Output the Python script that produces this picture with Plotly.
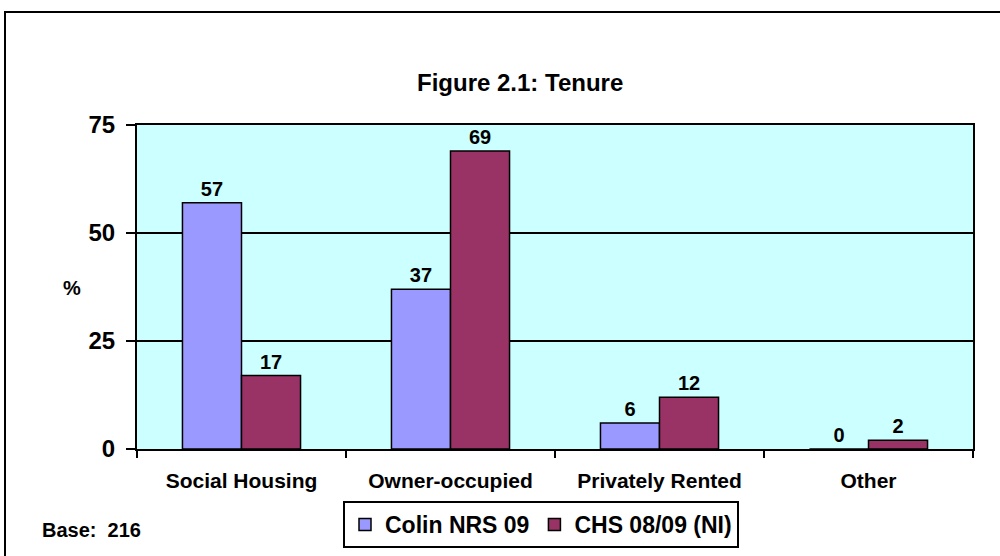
import plotly.graph_objects as go

categories = ["Social Housing", "Owner-occupied", "Privately Rented", "Other"]
series_names = ["Colin NRS 09", "CHS 08/09 (NI)"]
colin_values = [57, 37, 6, 0]
chs_values = [17, 69, 12, 2]
colors = ["#9999FF", "#993366"]
y_ticks = [0, 25, 50, 75]

W, H = 1000, 556
L, R, T, B = 137, 27, 125, 107
pw, ph = W - L - R, H - T - B

def px_x(x):
    return (x - L) / pw

def px_y(y):
    return (H - B - y) / ph

FONT = "Liberation Sans, Arial, sans-serif"

fig = go.Figure()
for name, vals, col in zip(series_names, [colin_values, chs_values], colors):
    fig.add_trace(go.Bar(
        x=categories, y=vals, name=name,
        marker=dict(color=col, line=dict(color="black", width=1.5)),
        text=[str(v) for v in vals], textposition="outside",
        textfont=dict(family=FONT, size=20, color="black", weight="bold"),
        cliponaxis=False,
    ))

fig.update_layout(
    width=W, height=H,
    margin=dict(l=L, r=R, t=T, b=B, autoexpand=False),
    paper_bgcolor="white", plot_bgcolor="#CCFFFF",
    barmode="group", bargap=0.435, bargroupgap=0,
    font=dict(family=FONT, color="black"),
    showlegend=True,
    legend=dict(
        orientation="h", x=px_x(343), y=px_y(501), xanchor="left", yanchor="top",
        bordercolor="black", borderwidth=2, bgcolor="white",
        font=dict(family=FONT, size=23, color="black", weight="bold"),
        tracegroupgap=0,
    ),
)

fig.update_xaxes(
    showline=True, linecolor="black", linewidth=2, mirror=True,
    ticks="outside", tickson="boundaries", ticklen=7, tickwidth=1.5, tickcolor="black",
    tickfont=dict(family=FONT, size=21, color="black", weight="bold"),
    ticklabelstandoff=12,
    showgrid=False,
)
fig.update_yaxes(
    range=[0, 75], tickvals=y_ticks,
    showline=True, linecolor="black", linewidth=2, mirror=True,
    ticks="outside", ticklen=9, tickwidth=1.5, tickcolor="black",
    tickfont=dict(family=FONT, size=24, color="black", weight="bold"),
    ticklabelstandoff=6,
    showgrid=True, gridcolor="black", gridwidth=1.5, zeroline=False,
)

fig.add_annotation(text="<b>Figure 2.1: Tenure</b>", xref="paper", yref="paper",
                   x=px_x(520), y=px_y(82), xanchor="center", yanchor="middle",
                   showarrow=False, font=dict(family=FONT, size=24, color="black"))
fig.add_annotation(text="<b>%</b>", xref="paper", yref="paper",
                   x=px_x(72), y=px_y(288), xanchor="center", yanchor="middle",
                   showarrow=False, font=dict(family=FONT, size=20, color="black"))
fig.add_annotation(text="<b>Base:  216</b>", xref="paper", yref="paper",
                   x=px_x(40), y=px_y(530), xanchor="left", yanchor="middle",
                   showarrow=False, font=dict(family=FONT, size=20, color="black"))

fig.add_shape(type="rect", xref="paper", yref="paper",
              x0=px_x(5), x1=px_x(1010), y0=px_y(570), y1=px_y(12),
              line=dict(color="black", width=2), fillcolor="rgba(0,0,0,0)", layer="below")

fig.write_html("out.html", config={"displayModeBar": False},
               post_script="document.body.style.margin='0';document.body.style.overflow='hidden';")
